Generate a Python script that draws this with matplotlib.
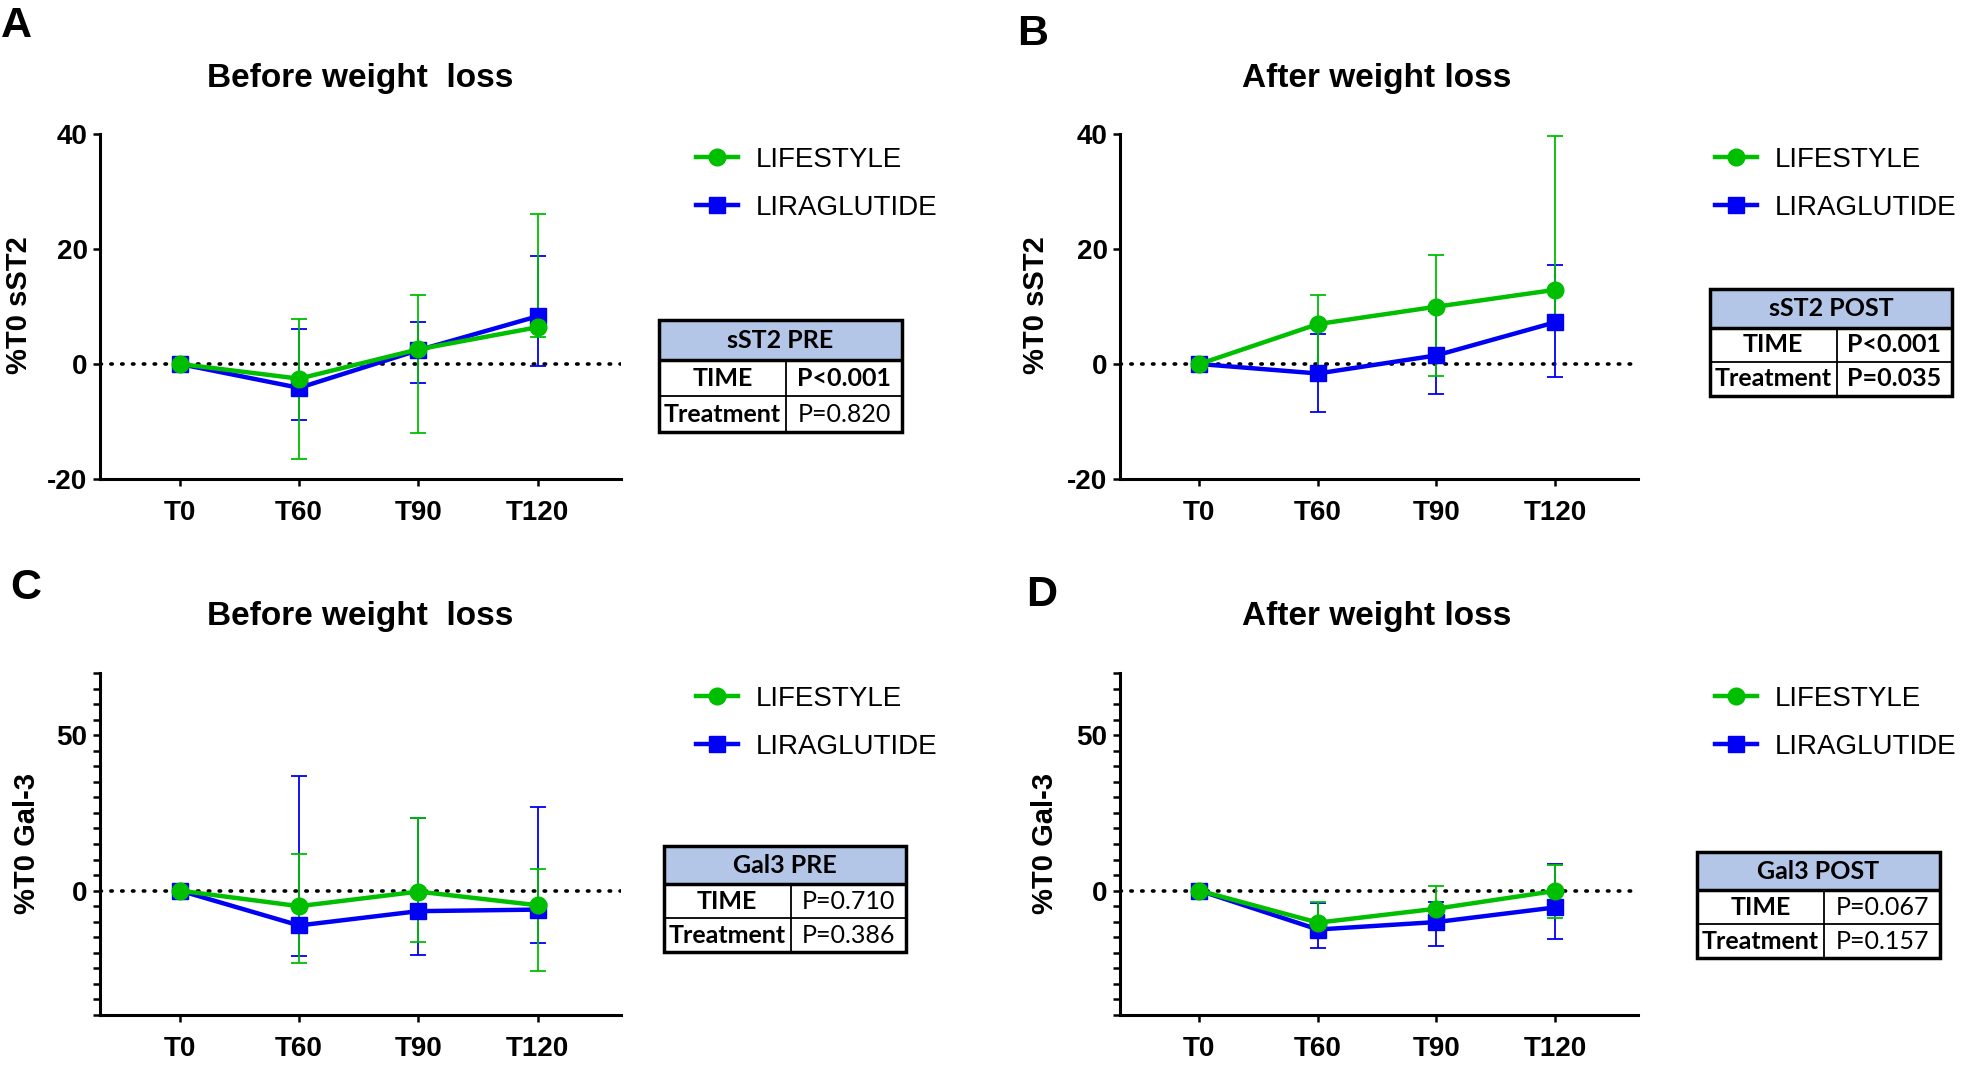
import matplotlib
matplotlib.use("Agg")
import matplotlib.pyplot as plt
from matplotlib.lines import Line2D
from matplotlib.patches import Rectangle

plt.rcParams["font.family"] = ["Liberation Sans", "DejaVu Sans"]

W, H = 1961, 1070
GREEN = "#00BE00"
BLUE = "#0000F5"

timepoints = ["T0", "T60", "T90", "T120"]
series_names = ["LIFESTYLE", "LIRAGLUTIDE"]

# panel A - sST2 before weight loss
a_life = [0, -2.55, 2.55, 6.4]
a_life_lo = [0, -16.6, -12.0, 4.75]
a_life_hi = [0, 7.8, 12.0, 26.1]
a_lira = [0, -4.15, 2.4, 8.3]
a_lira_lo = [0, -9.7, -3.3, -0.3]
a_lira_hi = [0, 6.05, 7.25, 18.8]

# panel B - sST2 after weight loss
b_life = [0, 6.95, 9.97, 12.9]
b_life_lo = [0, -2.8, -2.0, 6.3]
b_life_hi = [0, 12.0, 18.9, 39.6]
b_lira = [0, -1.65, 1.5, 7.25]
b_lira_lo = [0, -8.3, -5.15, -2.3]
b_lira_hi = [0, 5.15, 9.2, 17.2]

# panel C - Gal-3 before weight loss
c_life = [0, -5.0, -0.3, -4.7]
c_life_lo = [0, -23.2, -16.6, -25.7]
c_life_hi = [0, 11.7, 23.4, 7.1]
c_lira = [0, -11.2, -6.6, -6.1]
c_lira_lo = [0, -21.0, -20.8, -17.0]
c_lira_hi = [0, 36.8, 23.4, 26.9]

# panel D - Gal-3 after weight loss
d_life = [0, -10.3, -5.8, -0.1]
d_life_lo = [0, -14.3, -8.0, -8.8]
d_life_hi = [0, -3.6, 1.6, 8.4]
d_lira = [0, -12.5, -10.1, -5.4]
d_lira_lo = [0, -18.6, -17.8, -15.4]
d_lira_hi = [0, -4.1, -3.6, 8.7]

table_titles = ["sST2 PRE", "sST2 POST", "Gal3 PRE", "Gal3 POST"]
table_time = ["P<0.001", "P<0.001", "P=0.710", "P=0.067"]
table_treat = ["P=0.820", "P=0.035", "P=0.386", "P=0.157"]
table_bold = [(True, False), (True, True), (False, False), (False, False)]


def fx(px):
  return px / W


def fy(py):
  return 1 - py / H


def draw_series(ax, mean, lo, hi, color, marker, ms):
  x = list(range(len(mean)))
  yerr = [[m - l for m, l in zip(mean, lo)], [h - m for m, h in zip(mean, hi)]]
  ax.errorbar(x, mean, yerr=yerr, fmt="none", ecolor=color, elinewidth=1.3,
              capsize=5.5, capthick=1.3, zorder=3)
  ax.plot(x, mean, color=color, lw=3.2, marker=marker, ms=ms, zorder=4)


def setup_axes(ax, ylim, ticks, labels):
  ax.set_xlim(-0.67, 3.7)
  ax.set_ylim(*ylim)
  ax.axhline(0, color="black", lw=2.6, linestyle=(0, (0.4, 2.6)),
             dash_capstyle="round", zorder=2)
  for s in ("top", "right"):
    ax.spines[s].set_visible(False)
  for s in ("left", "bottom"):
    ax.spines[s].set_linewidth(2.2)
  ax.set_xticks(range(len(timepoints)))
  ax.set_xticklabels(timepoints, fontweight="bold", fontsize=20)
  ax.set_yticks(ticks)
  ax.set_yticklabels(labels, fontweight="bold", fontsize=20)
  ax.tick_params(axis="both", length=5, width=1.8)
  ax.tick_params(axis="x", pad=10)
  ax.tick_params(axis="y", pad=4)


def draw_table(fig, box, title, time_p, treat_p, bold):
  x0, y0, x1, y1 = box
  tax = fig.add_axes([fx(x0), fy(y1), fx(x1 - x0), (y1 - y0) / H])
  tax.set_xlim(0, 1)
  tax.set_ylim(0, 1)
  tax.axis("off")
  hh = 0.36
  rh = (1 - hh) / 2
  split = 0.523
  tax.add_patch(Rectangle((0, 1 - hh), 1, hh, facecolor="#B4C6E7", edgecolor="none"))
  tax.add_patch(Rectangle((0, 0), 1, 1, fill=False, edgecolor="black", lw=2.5, clip_on=False))
  tax.plot([0, 1], [1 - hh, 1 - hh], color="black", lw=2.5)
  tax.plot([0, 1], [rh, rh], color="black", lw=1.3)
  tax.plot([split, split], [0, 1 - hh], color="black", lw=1.3)
  tf = ["Lato", "DejaVu Sans"]
  fs = 18
  tax.text(0.5, 1 - hh / 2, title, ha="center", va="center", fontsize=fs,
           fontweight="bold", family=tf)
  tax.text(split / 2, rh * 1.5, "TIME", ha="center", va="center", fontsize=fs,
           fontweight="bold", family=tf)
  tax.text(split / 2, rh * 0.5, "Treatment", ha="center", va="center", fontsize=fs,
           fontweight="bold", family=tf)
  tax.text((1 + split) / 2, rh * 1.5, time_p, ha="center", va="center", fontsize=fs,
           fontweight="bold" if bold[0] else "normal", family=tf)
  tax.text((1 + split) / 2, rh * 0.5, treat_p, ha="center", va="center", fontsize=fs,
           fontweight="bold" if bold[1] else "normal", family=tf)


fig = plt.figure(figsize=(W / 100, H / 100), dpi=100)

panels = [
  dict(box=(100, 134, 621, 479), life=(a_life, a_life_lo, a_life_hi),
       lira=(a_lira, a_lira_lo, a_lira_hi), kind="sst2", title="Before weight  loss",
       tx=360, ty=78, letter="A", lx=16, ly=26, ylx=19, yly=305, leg=(696, 184),
       table=(659, 320, 902, 432)),
  dict(box=(1120, 134, 1638, 479), life=(b_life, b_life_lo, b_life_hi),
       lira=(b_lira, b_lira_lo, b_lira_hi), kind="sst2", title="After weight loss",
       tx=1377, ty=78, letter="B", lx=1033, ly=34, ylx=1036, yly=305, leg=(1715, 184),
       table=(1710, 289, 1952, 396)),
  dict(box=(100, 673, 621, 1015), life=(c_life, c_life_lo, c_life_hi),
       lira=(c_lira, c_lira_lo, c_lira_hi), kind="gal3", title="Before weight  loss",
       tx=360, ty=617, letter="C", lx=26, ly=588, ylx=27, yly=844, leg=(696, 723),
       table=(664, 846, 906, 952)),
  dict(box=(1120, 673, 1638, 1015), life=(d_life, d_life_lo, d_life_hi),
       lira=(d_lira, d_lira_lo, d_lira_hi), kind="gal3", title="After weight loss",
       tx=1377, ty=617, letter="D", lx=1042, ly=595, ylx=1045, yly=844, leg=(1715, 723),
       table=(1697, 852, 1940, 958)),
]

for i, p in enumerate(panels):
  x0, y0, x1, y1 = p["box"]
  ax = fig.add_axes([fx(x0), fy(y1), fx(x1 - x0), (y1 - y0) / H])
  if p["kind"] == "sst2":
    ticks = [-20, 0, 20, 40]
    setup_axes(ax, (-20, 40), ticks, [str(t) for t in ticks])
    ylabel = "%T0 sST2"
  else:
    ticks = list(range(-40, 71, 5))
    setup_axes(ax, (-40, 70), ticks, [str(t) if t in (0, 50) else "" for t in ticks])
    ylabel = "%T0 Gal-3"
  draw_series(ax, *p["lira"], BLUE, "s", 11)
  draw_series(ax, *p["life"], GREEN, "o", 12)

  fig.text(fx(p["tx"]), fy(p["ty"]), p["title"], ha="center", va="center",
           fontsize=24, fontweight="bold")
  fig.text(fx(p["lx"]), fy(p["ly"]), p["letter"], ha="center", va="center",
           fontsize=31, fontweight="bold")
  fig.text(fx(p["ylx"]), fy(p["yly"]), ylabel, ha="center", va="center",
           rotation=90, fontsize=21, fontweight="bold")

  handles = [
    Line2D([], [], color=GREEN, lw=3.2, marker="o", ms=12),
    Line2D([], [], color=BLUE, lw=3.2, marker="s", ms=11),
  ]
  ax.legend(handles, series_names, loc="center left",
            bbox_to_anchor=(fx(p["leg"][0]), fy(p["leg"][1])),
            bbox_transform=fig.transFigure, frameon=False, fontsize=20,
            handlelength=1.5, handletextpad=0.65, labelspacing=0.78,
            borderpad=0, borderaxespad=0)

  draw_table(fig, p["table"], table_titles[i], table_time[i], table_treat[i], table_bold[i])

fig.savefig("out.png", dpi=100)
